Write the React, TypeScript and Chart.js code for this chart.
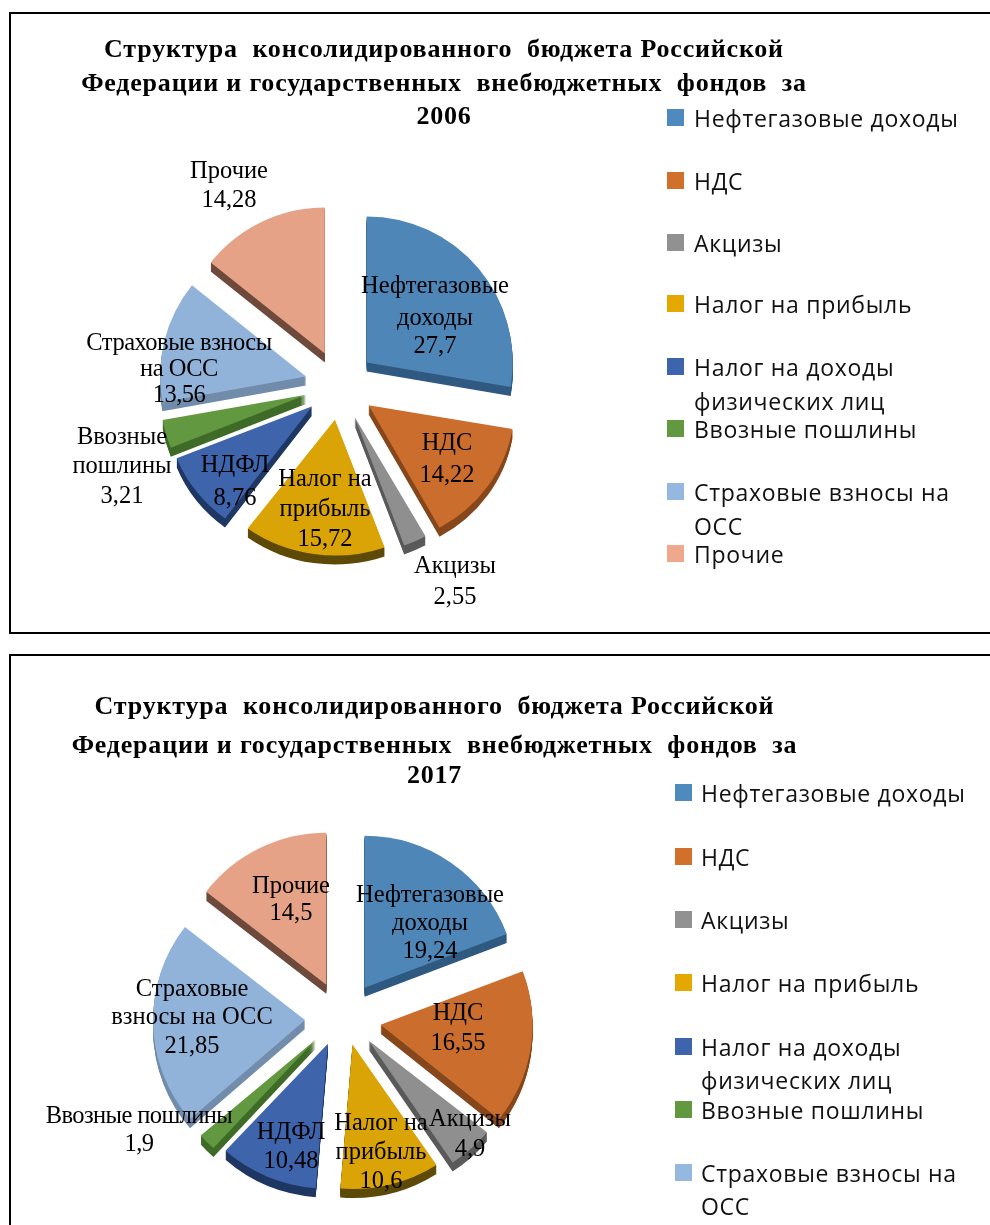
import React, { useEffect, useRef } from "react";
import { Chart, registerables } from "chart.js";

Chart.register(...registerables);

const categories = ["Нефтегазовые доходы", "НДС", "Акцизы", "Налог на прибыль", "Налог на доходы физических лиц", "Ввозные пошлины", "Страховые взносы на ОСС", "Прочие"];
const values2006 = [27.7, 14.22, 2.55, 15.72, 8.76, 3.21, 13.56, 14.28];
const values2017 = [19.24, 16.55, 4.9, 10.6, 10.48, 1.9, 21.85, 14.5];
const titleLines2006 = ["Структура  консолидированного  бюджета Российской", "Федерации и государственных  внебюджетных  фондов  за", "2006"];
const titleLines2017 = ["Структура  консолидированного  бюджета Российской", "Федерации и государственных  внебюджетных  фондов  за", "2017"];
const legendLines = [["Нефтегазовые доходы"], ["НДС"], ["Акцизы"], ["Налог на прибыль"], ["Налог на доходы", "физических лиц"], ["Ввозные пошлины"], ["Страховые взносы на", "ОСС"], ["Прочие"]];
const labelLines2006 = [["Нефтегазовые", "доходы"], ["НДС"], ["Акцизы"], ["Налог на", "прибыль"], ["НДФЛ"], ["Ввозные", "пошлины"], ["Страховые взносы", "на ОСС"], ["Прочие"]];
const labelLines2017 = [["Нефтегазовые", "доходы"], ["НДС"], ["Акцизы"], ["Налог на", "прибыль"], ["НДФЛ"], ["Ввозные пошлины"], ["Страховые", "взносы на ОСС"], ["Прочие"]];

const sliceColors = ["#4F86B8", "#CB6D2D", "#8F8F8F", "#DAA406", "#3E64AB", "#62983F", "#91B3DA", "#E6A286"];
const depthColors = ["#305A80", "#86471C", "#5A5A5A", "#5E4A08", "#1F3763", "#3F6B28", "#728CAB", "#6E4A3C"];
const legendColors = ["#4F8ABF", "#D0702A", "#919191", "#E5A800", "#3E64AD", "#62983F", "#94B8E0", "#F0A88C"];

const layout2006 = {
  ox: 11, oy: 14, w: 979, h: 618,
  cx: 340, cy: 385, r: 146, explode: 35, depth: 9, squash: 0.07, apexSquash: 0,
  titleX: 444, titleY: [49, 83, 116],
  swatchX: 667, textX: 694,
  legendY: [117, 180, 242, 303, 366, 428, 491, 553],
  legendLineGap: 34,
  labels: [
    { x: 435, y: [285, 317, 345], tight: 0 }, { x: 447, y: [442, 474], tight: 0 }, { x: 455, y: [565, 596], tight: 0 },
    { x: 325, y: [478, 508, 538], tight: 0 }, { x: 235, y: [464, 497], tight: 0 }, { x: 122, y: [436, 465, 495], tight: 0 },
    { x: 179, y: [342, 368, 394], tight: 0.5 }, { x: 229, y: [170, 199], tight: 0 },
  ],
};
const layout2017 = {
  ox: 11, oy: 656, w: 979, h: 640,
  cx: 343, cy: 1019, r: 152, explode: 38, depth: 9, squash: 0.05, apexSquash: 0.32,
  titleX: 434.5, titleY: [706, 745, 775],
  swatchX: 675, textX: 701,
  legendY: [792, 856, 919, 982, 1046, 1109, 1172, 1235],
  legendLineGap: 33,
  labels: [
    { x: 430, y: [894, 922, 950], tight: 0 }, { x: 458, y: [1012, 1042], tight: 0 }, { x: 470, y: [1118, 1148], tight: 0 },
    { x: 381, y: [1122, 1151, 1180], tight: 0 }, { x: 291, y: [1131, 1160], tight: 0 }, { x: 139, y: [1115, 1143], tight: 0.6 },
    { x: 192, y: [988, 1016, 1045], tight: 0 }, { x: 291, y: [885, 912], tight: 0 },
  ],
};

type Layout = typeof layout2006;

function PieBox({ values, title, labelLines, layout }: { values: number[]; title: string[]; labelLines: string[][]; layout: Layout }) {
  const ref = useRef<HTMLCanvasElement>(null);
  useEffect(() => {
    const L = layout;
    const relX = L.cx - L.ox;
    const relY = L.cy - L.oy;

    const explodedPies = {
      id: "explodedPies",
      beforeDatasetDraw(chart: any) {
        const ctx = chart.ctx;
        const arcs = chart.getDatasetMeta(0).data;
        // place one slice: pushed out along its middle angle, lower slices flattened a little (tilted pie)
        const place = (a: any, extraY: number) => {
          const mid = (a.startAngle + a.endAngle) / 2;
          const low = Math.max(0, Math.sin(mid));
          ctx.translate(a.x + Math.cos(mid) * L.explode, a.y + Math.sin(mid) * L.explode * (1 - L.apexSquash * low) + extraY);
          ctx.scale(1, 1 - L.squash * low);
          ctx.translate(-a.x, -a.y);
        };
        arcs.forEach((a: any, i: number) => {
          ctx.fillStyle = depthColors[i];
          for (let d = L.depth; d >= 1; d--) {
            ctx.save();
            place(a, d);
            ctx.beginPath();
            ctx.moveTo(a.x, a.y);
            ctx.arc(a.x, a.y, a.outerRadius, a.startAngle, a.endAngle);
            ctx.closePath();
            ctx.fill();
            ctx.restore();
          }
        });
        arcs.forEach((a: any) => {
          ctx.save();
          place(a, 0);
          a.draw(ctx);
          ctx.restore();
        });
        return false;
      },
    };

    const texts = {
      id: "texts",
      afterDraw(chart: any) {
        const ctx = chart.ctx;
        ctx.save();
        ctx.translate(-L.ox, -L.oy);
        ctx.fillStyle = "#000";
        ctx.textBaseline = "alphabetic";

        ctx.font = 'bold 26px "Liberation Serif"';
        ctx.textAlign = "center";
        (ctx as any).letterSpacing = "0.8px";
        title.forEach((t, i) => ctx.fillText(t, L.titleX, L.titleY[i] + 8));

        (ctx as any).letterSpacing = "0.7px";
        ctx.font = '23px "Open Sans"';
        ctx.textAlign = "left";
        legendLines.forEach((lines, i) => {
          const y = L.legendY[i];
          ctx.fillStyle = legendColors[i];
          ctx.fillRect(L.swatchX, y - 8, 17, 17);
          ctx.fillStyle = "#111";
          lines.forEach((t, j) => ctx.fillText(t, L.textX, y + 10 + j * L.legendLineGap));
        });

        ctx.font = '24.5px "Liberation Serif"';
        ctx.textAlign = "center";
        ctx.fillStyle = "#000";
        chart.data.datasets[0].data.forEach((v: number, i: number) => {
          const pos = L.labels[i];
          (ctx as any).letterSpacing = `${-pos.tight}px`;
          const lines = [...labelLines[i], String(v).replace(".", ",")];
          lines.forEach((t, j) => ctx.fillText(t, pos.x, pos.y[j] + 8));
        });
        ctx.restore();
      },
    };

    const chart = new Chart(ref.current!, {
      type: "pie",
      data: {
        labels: categories,
        datasets: [{ data: values, backgroundColor: sliceColors, borderWidth: 0, offset: 0, radius: L.r } as any],
      },
      options: {
        responsive: false,
        animation: false,
        layout: {
          padding: {
            left: Math.max(0, 2 * relX - L.w),
            right: Math.max(0, L.w - 2 * relX),
            top: Math.max(0, 2 * relY - L.h),
            bottom: Math.max(0, L.h - 2 * relY),
          },
        },
        plugins: { legend: { display: false }, title: { display: false }, tooltip: { enabled: false } },
      },
      plugins: [explodedPies, texts],
    });
    return () => chart.destroy();
  }, []);
  return (
    <div
      style={{
        position: "absolute",
        left: layout.ox - 2,
        top: layout.oy - 2,
        width: 1200,
        height: layout.h,
        border: "2px solid #000",
        background: "#fff",
      }}
    >
      <canvas ref={ref} width={layout.w} height={layout.h} style={{ display: "block", filter: "blur(0.5px)" }} />
    </div>
  );
}

export default function App() {
  return (
    <div style={{ position: "fixed", left: 0, top: 0, width: 990, height: 1225, overflow: "hidden", background: "#fff" }}>
      <PieBox values={values2006} title={titleLines2006} labelLines={labelLines2006} layout={layout2006} />
      <PieBox values={values2017} title={titleLines2017} labelLines={labelLines2017} layout={layout2017} />
    </div>
  );
}
